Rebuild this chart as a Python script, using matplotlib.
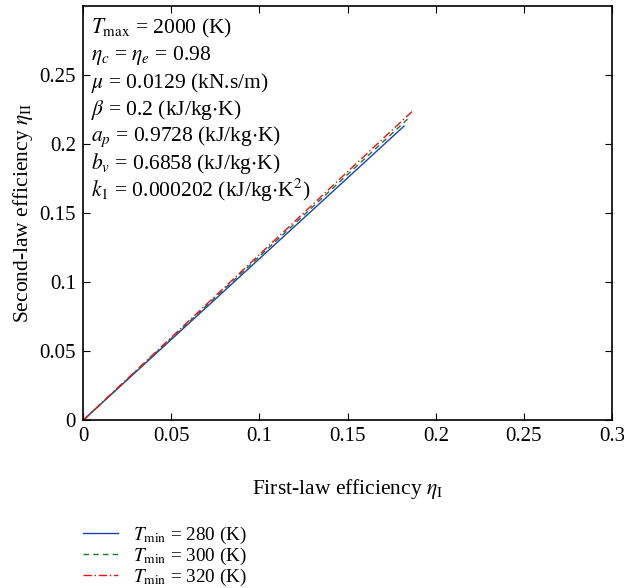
import matplotlib
matplotlib.use("Agg")
import matplotlib.pyplot as plt

plt.rcParams['font.family'] = ['Liberation Serif', 'DejaVu Serif']
plt.rcParams['mathtext.fontset'] = 'stix'

# Values (first-law vs second-law efficiency)
eta1_280 = [0, 0.05, 0.10, 0.15, 0.182]
eta2_280 = [0, 0.0585, 0.117, 0.1755, 0.213]
eta1_300 = [0, 0.05, 0.10, 0.15, 0.184]
eta2_300 = [0, 0.0593, 0.1187, 0.178, 0.218]
eta1_320 = [0, 0.05, 0.10, 0.15, 0.1865]
eta2_320 = [0, 0.060, 0.120, 0.180, 0.2235]

labels = [r"$T_{\mathrm{min}}$ = 280 (K)",
          r"$T_{\mathrm{min}}$ = 300 (K)",
          r"$T_{\mathrm{min}}$ = 320 (K)"]

params = [r"$T_{\mathrm{max}}$ = 2000 (K)",
          r"$\eta_c$ = $\eta_e$ = 0.98",
          r"$\mu$ = 0.0129 (kN.s/m)",
          r"$\beta$ = 0.2 (kJ/kg$\cdot$K)",
          r"$a_p$ = 0.9728 (kJ/kg$\cdot$K)",
          r"$b_v$ = 0.6858 (kJ/kg$\cdot$K)",
          r"$k_1$ = 0.000202 (kJ/kg$\cdot$K$^2$)"]

xticks = [0, 0.05, 0.1, 0.15, 0.2, 0.25, 0.3]
xticklabels = ["0", "0.05", "0.1", "0.15", "0.2", "0.25", "0.3"]
yticks = [0, 0.05, 0.1, 0.15, 0.2, 0.25]
yticklabels = ["0", "0.05", "0.1", "0.15", "0.2", "0.25"]

fig = plt.figure(figsize=(6.24, 5.88), dpi=100)
ax = fig.add_axes([0.133, 0.285, 0.848, 0.705])

ax.plot(eta1_280, eta2_280, color="#1c3fb5", lw=1.0, ls="-", label=labels[0])
ax.plot(eta1_300, eta2_300, color="#1a7a2a", lw=1.0, ls=(0, (4, 3)), label=labels[1])
ax.plot(eta1_320, eta2_320, color="#ee1111", lw=1.0, ls=(0, (6, 2, 1, 2)), label=labels[2])

ax.set_xlim(0, 0.3)
ax.set_ylim(0, 0.3)
ax.set_xticks(xticks)
ax.set_xticklabels(xticklabels)
ax.set_yticks(yticks)
ax.set_yticklabels(yticklabels)
ax.tick_params(direction="in", top=True, right=True, labelsize=15, length=5, pad=5)
for s in ax.spines.values():
    s.set_linewidth(1.2)

ax.set_xlabel(r"First-law efficiency $\eta_{\mathrm{I}}$", fontsize=15.5, labelpad=22)
ax.set_ylabel(r"Second-law efficiency $\eta_{\mathrm{II}}$", fontsize=15.5, labelpad=3)

# Parameter block in the upper left corner
for i, txt in enumerate(params):
    ax.text(0.015, 0.945 - i * 0.065, txt, transform=ax.transAxes,
            fontsize=15.5, va="center", ha="left")

ax.legend(loc="upper left", bbox_to_anchor=(0.0, -0.252), frameon=False,
          fontsize=13.8, handlelength=1.85, handletextpad=0.75,
          labelspacing=0.0, borderaxespad=0, borderpad=0)

fig.savefig("out.png", dpi=100)
